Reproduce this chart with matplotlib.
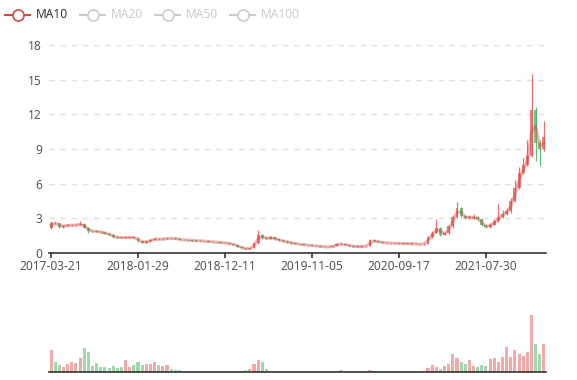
import numpy as np
import matplotlib.pyplot as plt
from matplotlib.lines import Line2D

# 每根K线约代表两周的行情（原图为日K，这里按图上读数做了压缩）
W, H = 577, 380

opens = [2.20, 2.60, 2.58, 2.25, 2.35, 2.40, 2.42, 2.42, 2.52, 2.20,
         1.90, 1.88, 1.85, 1.80, 1.68, 1.58, 1.38, 1.34, 1.33, 1.33,
         1.36, 1.33, 1.05, 0.90, 1.02, 1.12, 1.22, 1.18, 1.22, 1.27,
         1.26, 1.24, 1.16, 1.12, 1.10, 1.07, 1.06, 1.04, 1.02, 0.99,
         0.95, 0.92, 0.89, 0.86, 0.80, 0.70, 0.55, 0.42, 0.35, 0.42,
         0.85, 1.55, 1.30, 1.25, 1.35, 1.20, 1.10, 1.00, 0.92, 0.85,
         0.78, 0.75, 0.70, 0.66, 0.63, 0.60, 0.55, 0.52, 0.54, 0.60,
         0.80, 0.75, 0.70, 0.60, 0.56, 0.56, 0.58, 0.60, 1.10, 1.00,
         0.95, 0.90, 0.86, 0.84, 0.84, 0.82, 0.82, 0.80, 0.80, 0.78,
         0.76, 0.80, 1.35, 1.75, 2.20, 1.60, 1.70, 2.30, 3.10, 3.90,
         3.20, 3.05, 3.05, 3.10, 2.90, 2.40, 2.25, 2.45, 2.75, 3.10,
         3.40, 3.60, 4.50, 5.60, 6.90, 7.60, 8.40, 12.40, 9.50, 9.00]

closes = [2.60, 2.58, 2.25, 2.35, 2.40, 2.42, 2.42, 2.52, 2.20, 1.90,
          1.88, 1.85, 1.80, 1.68, 1.58, 1.38, 1.34, 1.33, 1.33, 1.36,
          1.33, 1.05, 0.90, 1.02, 1.12, 1.22, 1.18, 1.22, 1.27, 1.26,
          1.24, 1.16, 1.12, 1.10, 1.07, 1.06, 1.04, 1.02, 0.99, 0.95,
          0.92, 0.89, 0.86, 0.80, 0.70, 0.55, 0.42, 0.35, 0.42, 0.85,
          1.55, 1.30, 1.25, 1.35, 1.20, 1.10, 1.00, 0.92, 0.85, 0.78,
          0.75, 0.70, 0.66, 0.63, 0.60, 0.55, 0.52, 0.54, 0.60, 0.80,
          0.75, 0.70, 0.60, 0.56, 0.56, 0.58, 0.60, 1.10, 1.00, 0.95,
          0.90, 0.86, 0.84, 0.84, 0.82, 0.82, 0.80, 0.80, 0.78, 0.76,
          0.80, 1.35, 1.75, 2.20, 1.60, 1.70, 2.30, 3.10, 3.90, 3.20,
          3.05, 3.05, 3.10, 2.90, 2.40, 2.25, 2.45, 2.75, 3.10, 3.40,
          3.60, 4.50, 5.60, 6.90, 7.60, 8.40, 12.40, 9.50, 9.00, 10.00]

highs = [2.80, 2.72, 2.62, 2.42, 2.48, 2.50, 2.52, 2.80, 2.58, 2.25,
         1.98, 1.95, 1.92, 1.85, 1.72, 1.62, 1.42, 1.40, 1.40, 1.42,
         1.40, 1.36, 1.08, 1.08, 1.18, 1.38, 1.28, 1.26, 1.32, 1.32,
         1.30, 1.28, 1.20, 1.16, 1.14, 1.12, 1.10, 1.08, 1.06, 1.03,
         0.98, 0.95, 0.92, 0.88, 0.82, 0.72, 0.57, 0.44, 0.45, 0.95,
         1.95, 1.62, 1.38, 1.48, 1.38, 1.25, 1.14, 1.04, 0.96, 0.89,
         0.82, 0.78, 0.73, 0.70, 0.66, 0.63, 0.58, 0.58, 0.64, 0.86,
         0.84, 0.78, 0.72, 0.63, 0.60, 0.62, 0.64, 1.22, 1.14, 1.04,
         0.98, 0.93, 0.89, 0.88, 0.87, 0.86, 0.85, 0.84, 0.83, 0.81,
         0.84, 1.45, 1.90, 2.90, 2.25, 1.85, 2.45, 3.30, 4.45, 3.95,
         3.30, 3.25, 3.35, 3.20, 2.95, 2.45, 2.60, 2.95, 4.20, 3.70,
         3.90, 4.80, 6.30, 7.40, 8.20, 9.80, 15.50, 12.60, 9.80, 11.40]

lows = [2.10, 2.50, 2.18, 2.20, 2.30, 2.34, 2.35, 2.38, 2.15, 1.72,
        1.82, 1.80, 1.76, 1.64, 1.54, 1.34, 1.30, 1.28, 1.28, 1.30,
        1.28, 0.98, 0.86, 0.88, 0.98, 1.10, 1.14, 1.15, 1.18, 1.22,
        1.20, 1.13, 1.09, 1.07, 1.04, 1.03, 1.01, 0.99, 0.96, 0.92,
        0.89, 0.86, 0.83, 0.77, 0.67, 0.52, 0.40, 0.33, 0.33, 0.40,
        0.82, 1.20, 1.18, 1.22, 1.16, 1.06, 0.96, 0.89, 0.82, 0.75,
        0.72, 0.67, 0.63, 0.60, 0.57, 0.52, 0.49, 0.50, 0.52, 0.58,
        0.72, 0.66, 0.57, 0.53, 0.53, 0.54, 0.56, 0.58, 0.96, 0.92,
        0.87, 0.83, 0.81, 0.80, 0.79, 0.79, 0.77, 0.77, 0.75, 0.73,
        0.73, 0.78, 1.30, 1.70, 1.50, 1.52, 1.65, 2.20, 3.00, 3.10,
        2.95, 2.92, 2.95, 2.85, 2.35, 2.15, 2.20, 2.40, 2.70, 3.00,
        3.30, 3.50, 4.40, 5.50, 6.80, 7.50, 8.30, 8.00, 7.50, 8.80]

volumes = [22, 10, 7, 5, 8, 10, 9, 14, 24, 20,
           6, 9, 5, 5, 4, 6, 4, 5, 12, 5,
           7, 10, 7, 8, 8, 10, 7, 6, 7, 3,
           2, 2, 1.5, 1.2, 1, 1, 1, 1.2, 1, 1.2,
           1, 1, 1, 1, 1, 1.2, 1.5, 2, 3, 8,
           12, 10, 3, 1.5, 1, 0.8, 0.8, 0.8, 0.8, 0.8,
           0.8, 0.8, 0.8, 0.7, 0.7, 0.7, 0.7, 0.7, 0.7, 0.7,
           2.5, 0.7, 0.7, 0.7, 0.7, 0.7, 0.7, 2.5, 0.7, 0.7,
           0.7, 0.7, 0.7, 0.7, 0.7, 1.2, 1.2, 1.2, 1.2, 1.2,
           1.2, 4, 7, 5, 3, 6, 8, 18, 14, 10,
           8, 12, 6, 5, 7, 6, 13, 14, 10, 15,
           25, 15, 22, 18, 16, 20, 57, 28, 18, 28]

tick_labels = ['2017-03-21', '2018-01-29', '2018-12-11',
               '2019-11-05', '2020-09-17', '2021-07-30']
tick_step = 21
legend_names = ['MA10', 'MA20', 'MA50', 'MA100']

plt.rcParams['font.family'] = ['Noto Sans', 'DejaVu Sans']

o = np.array(opens)
c = np.array(closes)
hi = np.array(highs)
lo = np.array(lows)
vol = np.array(volumes)
n = len(c)
x = np.arange(n)
ma10 = (o + c) / 2  # 两周K线内的10日均线近似

up_col = '#eb5454'
down_col = '#47b262'
col = np.where(c >= o, up_col, down_col)

fig = plt.figure(figsize=(W / 100, H / 100), dpi=100)
ax = fig.add_axes([49 / W, 1 - 253 / H, 497 / W, 208 / H])
axv = fig.add_axes([49 / W, 1 - 372 / H, 497 / W, 70 / H])

# K线
ax.vlines(x, lo, hi, colors=col, linewidth=0.9, alpha=0.85, zorder=3)
ax.bar(x, np.maximum(np.abs(c - o), 0.03), bottom=np.minimum(o, c), width=0.7,
       color=col, alpha=0.75, linewidth=0, zorder=3)
ax.plot(x, ma10, color='#d9534f', linewidth=2.2, alpha=0.45, zorder=4)

ax.set_xlim(-0.5, n - 0.5)
ax.set_ylim(0, 18)
ax.set_yticks(range(0, 19, 3))
ax.grid(axis='y', linestyle=(0, (4, 4)), color='#e0e0e0', linewidth=1)
ax.set_axisbelow(True)
for s in ['top', 'right', 'left']:
    ax.spines[s].set_visible(False)
ax.spines['bottom'].set_color('#333333')
ax.spines['bottom'].set_linewidth(1.2)
ax.set_xticks(np.arange(len(tick_labels)) * tick_step)
ax.set_xticklabels(tick_labels)
ax.tick_params(axis='y', length=0, pad=5, labelcolor='#555555', labelsize=8.6)
ax.tick_params(axis='x', length=3.6, width=1.2, color='#333333', pad=1.5,
               labelcolor='#555555', labelsize=8.6)

# 成交量
axv.bar(x, vol, width=0.75, color=col, alpha=0.5, linewidth=0)
axv.set_xlim(-0.5, n - 0.5)
axv.set_ylim(0, vol.max() * 1.23)
for s in ['top', 'right', 'left']:
    axv.spines[s].set_visible(False)
axv.spines['bottom'].set_color('#333333')
axv.spines['bottom'].set_linewidth(1.2)
axv.set_xticks([])
axv.set_yticks([])

# 图例
leg_x = [5, 80, 155, 230]
ly = 1 - 15 / H
for name, lx in zip(legend_names, leg_x):
    active = name == 'MA10'
    lc = '#d14a4a' if active else '#cccccc'
    fig.add_artist(Line2D([lx / W, (lx + 25) / W], [ly, ly], color=lc, linewidth=1.5,
                          transform=fig.transFigure))
    fig.add_artist(Line2D([(lx + 12.5) / W], [ly], marker='o', markersize=8,
                          markerfacecolor='white', markeredgecolor=lc, markeredgewidth=1.2,
                          transform=fig.transFigure))
    fig.text((lx + 31) / W, ly, name, fontsize=8.6, va='center', ha='left',
             color='#333333' if active else '#cccccc')

fig.savefig('out.png', dpi=100)
